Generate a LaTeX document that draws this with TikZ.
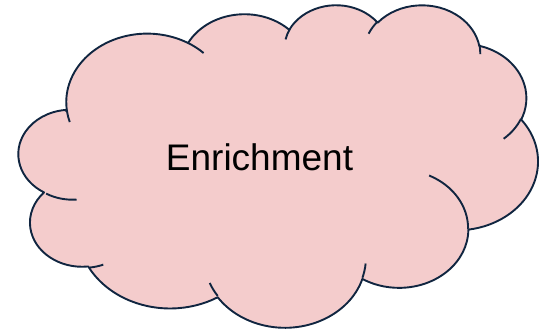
\documentclass[tikz,border=0pt]{standalone}
\usepackage{fontspec}
\setmainfont{Liberation Sans}
\definecolor{cloudfill}{RGB}{244,204,204}
\definecolor{cloudline}{RGB}{16,37,64}
\newcommand\cloudsx{11.979}
\newcommand\cloudsy{7.463}
\newcommand\cloudprep[5]{%
  \pgfmathsetmacro\cloudtmp{-(#4+dl(#4,#2,#3))}\expandafter\let\csname cloud#1s\endcsname\cloudtmp
  \pgfmathsetmacro\cloudtmp{-(#4+#5+dl(#4+#5,#2,#3))}\expandafter\let\csname cloud#1e\endcsname\cloudtmp
  \pgfmathsetmacro\cloudtmp{#2*\cloudsx}\expandafter\let\csname cloud#1x\endcsname\cloudtmp
  \pgfmathsetmacro\cloudtmp{#3*\cloudsy}\expandafter\let\csname cloud#1y\endcsname\cloudtmp
}
\newcommand\carc[1]{arc[start angle=\csname cloud#1s\endcsname, end angle=\csname cloud#1e\endcsname, x radius=\csname cloud#1x\endcsname pt, y radius=\csname cloud#1y\endcsname pt]}
\tikzset{
  cloudshape/.style={draw=cloudline, fill=cloudfill, line width=1.9pt, line join=round},
  cloudhook/.style={draw=cloudline, line width=1.9pt, line cap=butt},
  cloudtext/.style={font=\fontsize{37}{44}\selectfont, inner sep=0pt, anchor=base}
}
\begin{document}
\begin{tikzpicture}[declare function={vtp(\a,\w,\h)=atan2(\w*sin(\a),\h*cos(\a)); dl(\a,\w,\h)=vtp(\a,\w,\h)-\a-360*round((vtp(\a,\w,\h)-\a)/360);}]
\useasboundingbox (0pt,0pt) rectangle (546pt,332pt);
\cloudprep{A}{6.753}{9.190}{-190.4875}{123.7805}
\cloudprep{B}{5.333}{7.267}{-144.1024}{89.9452}
\cloudprep{C}{4.365}{5.945}{-145.8079}{99.7230}
\cloudprep{D}{4.857}{6.595}{-130.9861}{117.2417}
\cloudprep{E}{5.333}{7.273}{-78.7089}{109.0269}
\cloudprep{F}{6.775}{9.220}{-46.2808}{130.2831}
\cloudprep{G}{5.785}{7.867}{0.6250}{114.0333}
\cloudprep{H}{6.752}{9.215}{22.4516}{115.1726}
\cloudprep{I}{7.720}{10.543}{66.2426}{78.0370}
\cloudprep{J}{4.360}{5.918}{-274.9421}{146.7356}
\cloudprep{K}{4.345}{5.945}{-246.8285}{152.5189}
\cloudprep{a}{4.345}{5.945}{86.7420}{26.4295}
\cloudprep{b}{4.360}{5.918}{73.6105}{11.4475}
\cloudprep{c}{6.752}{9.215}{137.6242}{14.0811}
\cloudprep{d}{6.752}{9.215}{6.4533}{15.9984}
\cloudprep{e}{5.785}{7.867}{-70.2924}{70.9174}
\cloudprep{f}{5.333}{7.273}{30.3180}{27.7515}
\cloudprep{g}{4.857}{6.595}{-13.7443}{14.8547}
\cloudprep{h}{4.857}{6.595}{-149.1815}{18.1922}
\cloudprep{i}{4.365}{5.945}{-163.4943}{17.6963}
\cloudprep{j}{6.753}{9.190}{-66.7070}{12.3194}
\cloudprep{k}{6.753}{9.190}{157.6544}{11.8582}
\begin{scope}[shift={(20.3pt,327.8pt)}, x=11.979pt, y=-7.463pt]
  \coordinate (cstart) at (3.9,14.37);
  \draw[cloudshape] (cstart) \carc{A} \carc{B} \carc{C} \carc{D} \carc{E} \carc{F} \carc{G} \carc{H} \carc{I} \carc{J} \carc{K} -- cycle;
  \coordinate (ha) at (4.693,26.177);
  \coordinate (hb) at (6.928,34.899);
  \coordinate (hc) at (16.478,39.090);
  \coordinate (hd) at (28.827,34.751);
  \coordinate (he) at (34.129,22.954);
  \coordinate (hf) at (41.798,15.354);
  \coordinate (hg) at (38.324,5.426);
  \coordinate (hh) at (29.078,3.952);
  \coordinate (hi) at (22.141,4.720);
  \coordinate (hj) at (14.000,5.192);
  \coordinate (hk) at (4.127,15.789);
  \draw[cloudhook] (ha) \carc{a} (hb) \carc{b} (hc) \carc{c} (hd) \carc{d} (he) \carc{e} (hf) \carc{f} (hg) \carc{g} (hh) \carc{h} (hi) \carc{i} (hj) \carc{j} (hk) \carc{k};
\end{scope}
\node[cloudtext] (label) at (259.5pt,161.3pt) {Enrichment};
\end{tikzpicture}
\end{document}
